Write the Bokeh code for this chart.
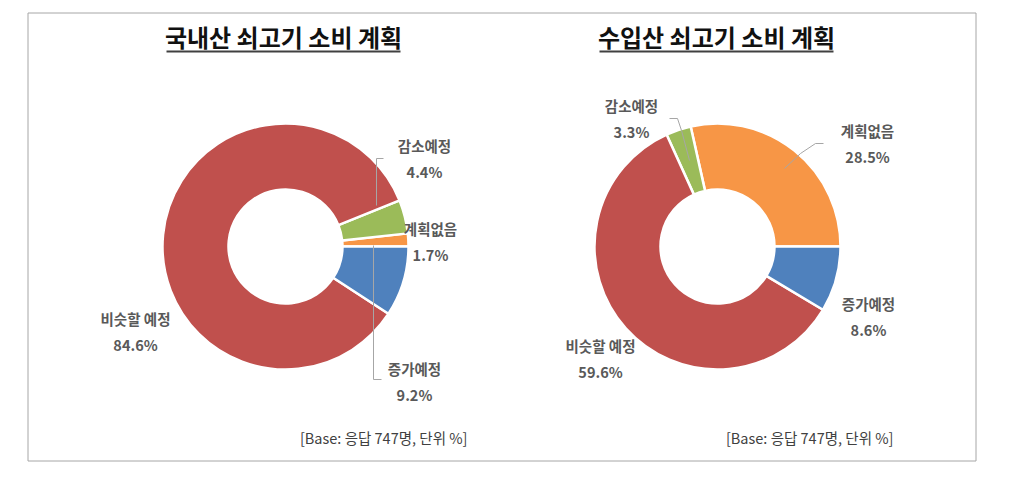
import numpy as np
from bokeh.plotting import figure
from bokeh.models import Range1d
from bokeh.core.properties import value
from bokeh.embed import file_html
from bokeh.resources import INLINE

W, H = 1012, 483

# ---- data ----
categories = ["계획없음", "감소예정", "비슷할 예정", "증가예정"]
domestic = [1.7, 4.4, 84.6, 9.2]
imported = [28.5, 3.3, 59.6, 8.6]
colors = ["#F79646", "#9BBB59", "#C0504D", "#4F81BD"]
titles = ["국내산 쇠고기 소비 계획", "수입산 쇠고기 소비 계획"]
note = "[Base: 응답 747명, 단위 %]"

# ---- layout (image pixel coords, y downward) ----
FONT = "Noto Sans CJK KR"
charts = [
    dict(values=domestic, title=titles[0], cx=285, cy=246, tx=283,
         note_x=467,
         labels={"감소예정": (424, 145), "계획없음": (430, 228),
                 "비슷할 예정": (135, 318), "증가예정": (414, 368)},
         leaders=[[(383, 158), (376, 158), (376, 205)],
                  [(373, 245), (373, 379), (381, 379)]]),
    dict(values=imported, title=titles[1], cx=717, cy=246, tx=716,
         note_x=893,
         labels={"감소예정": (631, 105), "계획없음": (867, 130),
                 "비슷할 예정": (600, 345), "증가예정": (868, 303)},
         leaders=[[(669, 118), (677, 118), (681, 130), (689, 160)],
                  [(823, 143), (815, 143), (800, 153), (784, 168)]]),
]
R_OUT, R_IN = 123, 57
TITLE_HALF = 117


def Y(y):
    return H - y


p = figure(width=W, height=H, x_range=Range1d(0, W), y_range=Range1d(0, H),
           output_backend="svg", toolbar_location=None, min_border=0)
p.axis.visible = False
p.grid.visible = False
p.outline_line_color = None
p.background_fill_color = "white"
p.border_fill_color = "white"

# frame
p.quad(left=27.5, right=975.5, top=Y(12.5), bottom=Y(460.5), fill_color=None,
       line_color="#A6A6A6", line_width=1)

for ch in charts:
    vals = np.array(ch["values"], dtype=float)
    frac = vals / vals.sum()
    ends = np.cumsum(frac) * 2 * np.pi
    starts = np.concatenate([[0.0], ends[:-1]])
    p.annular_wedge(x=ch["cx"], y=Y(ch["cy"]), inner_radius=R_IN, outer_radius=R_OUT,
                    start_angle=list(starts), end_angle=list(ends),
                    fill_color=colors, line_color="white", line_width=2.5)

    # leader lines
    for pts in ch["leaders"]:
        p.line([q[0] for q in pts], [Y(q[1]) for q in pts], line_color="#A6A6A6",
               line_width=1)

    # labels
    names = list(ch["labels"].keys())
    xs = [ch["labels"][n][0] for n in names]
    ys = [Y(ch["labels"][n][1]) for n in names]
    pcts = [f"{ch['values'][categories.index(n)]:.1f}%" for n in names]
    p.text(x=xs, y=ys, text=names, text_font=value(FONT), text_font_style="bold",
           text_font_size="14.5px", text_color="#595959", text_align="center",
           text_baseline="middle")
    p.text(x=xs, y=[y - 26 for y in ys], text=pcts, text_font=value(FONT),
           text_font_style="bold", text_font_size="14.5px", text_color="#595959",
           text_align="center", text_baseline="middle")

    # title
    p.text(x=[ch["tx"]], y=[Y(36)], text=[ch["title"]], text_font=value(FONT),
           text_font_style="bold", text_font_size="24px", text_color="#111111",
           text_align="center", text_baseline="middle")
    p.line([ch["tx"] - TITLE_HALF, ch["tx"] + TITLE_HALF], [Y(51), Y(51)],
           line_color="#404040", line_width=2)

    # footnote
    p.text(x=[ch["note_x"]], y=[Y(437)], text=[note], text_font=value(FONT),
           text_font_size="14.5px", text_color="#404040", text_align="right",
           text_baseline="middle")

open("out.html", "w").write(file_html(p, INLINE))
